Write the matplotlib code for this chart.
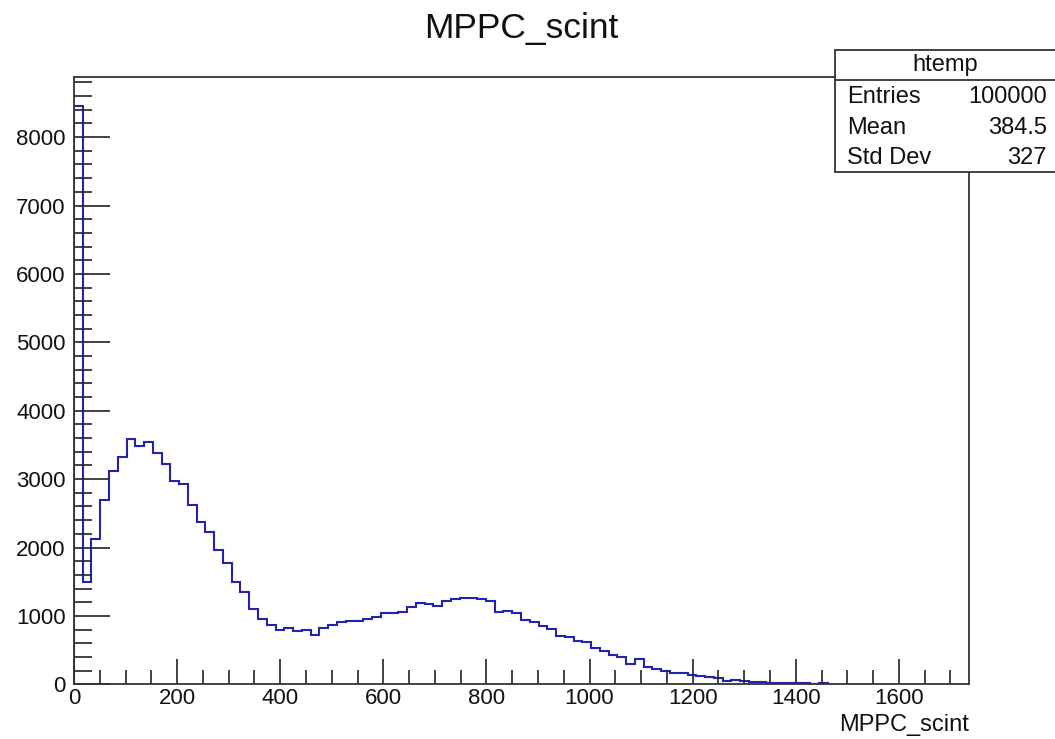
import numpy as np
import matplotlib.pyplot as plt
from matplotlib.patches import Rectangle
from matplotlib.ticker import MultipleLocator

plt.rcParams['font.family'] = ['Liberation Sans', 'DejaVu Sans']

# bin contents (bin width 17)
bin_width = 17
counts = [8460, 1490, 2130, 2690, 3120, 3330, 3580, 3490, 3540, 3380,
          3220, 2970, 2930, 2620, 2370, 2230, 1960, 1780, 1490, 1350,
          1100, 955, 870, 795, 820, 775, 790, 721, 819, 870,
          905, 921, 925, 950, 979, 1047, 1047, 1061, 1126, 1184,
          1179, 1145, 1222, 1242, 1266, 1266, 1242, 1218, 1052, 1076,
          1038, 940, 906, 852, 804, 706, 696, 637, 623, 526,
          491, 428, 400, 300, 368, 252, 224, 194, 170, 161,
          136, 121, 111, 88, 48, 63, 48, 40, 38, 25,
          22, 20, 18, 15, 0, 12]
stat_names = ["Entries", "Mean", "Std Dev"]
stat_values = ["100000", "384.5", "327"]

edges = np.arange(len(counts) + 1) * bin_width

fig = plt.figure(figsize=(10.55, 7.39), dpi=100)
ax = fig.add_axes([0.0701, 0.074, 0.8484, 0.8222])

ax.stairs(counts, edges, color='#2323b0', linewidth=1.5, baseline=0)

ax.set_xlim(0, 1736)
ax.set_ylim(0, 1.05 * max(counts))

ax.xaxis.set_major_locator(MultipleLocator(200))
ax.xaxis.set_minor_locator(MultipleLocator(50))
ax.yaxis.set_major_locator(MultipleLocator(1000))
ax.yaxis.set_minor_locator(MultipleLocator(200))

ax.tick_params(axis='x', which='major', direction='in', length=18, width=1.2,
               labelsize=16, pad=3, colors='#222222', labelcolor='#111111')
ax.tick_params(axis='x', which='minor', direction='in', length=10, width=1.2,
               colors='#222222')
ax.tick_params(axis='y', which='major', direction='in', length=26, width=1.2,
               labelsize=16, pad=6, colors='#222222', labelcolor='#111111')
ax.tick_params(axis='y', which='minor', direction='in', length=13, width=1.2,
               colors='#222222')
ax.tick_params(top=False, right=False, which='both')

for s in ax.spines.values():
    s.set_color('#333333')
    s.set_linewidth(1.3)

fig.text(0.494, 0.962, "MPPC_scint", ha='center', va='center', fontsize=25.5,
         color='#111111')
fig.text(0.9185, 0.019, "MPPC_scint", ha='right', va='center', fontsize=17,
         color='#111111')

# stats box
box = Rectangle((0.7915, 0.7673), 0.21, 0.165, transform=fig.transFigure,
                facecolor='white', edgecolor='#333333', linewidth=1.3,
                zorder=5, clip_on=False)
fig.patches.append(box)
fig.lines.append(plt.Line2D([0.7915, 1.0], [0.8917, 0.8917],
                            transform=fig.transFigure, color='#333333',
                            linewidth=1.3, zorder=6))
fig.text(0.8957, 0.912, "htemp", ha='center', va='center', fontsize=17,
         color='#111111', zorder=7)
ys = [0.8687, 0.8268, 0.7862]
for name, val, y in zip(stat_names, stat_values, ys):
    fig.text(0.8028, y, name, ha='left', va='center', fontsize=17,
             color='#111111', zorder=7)
    fig.text(0.9924, y, val, ha='right', va='center', fontsize=17,
             color='#111111', zorder=7)

fig.savefig("out.png", dpi=100)
